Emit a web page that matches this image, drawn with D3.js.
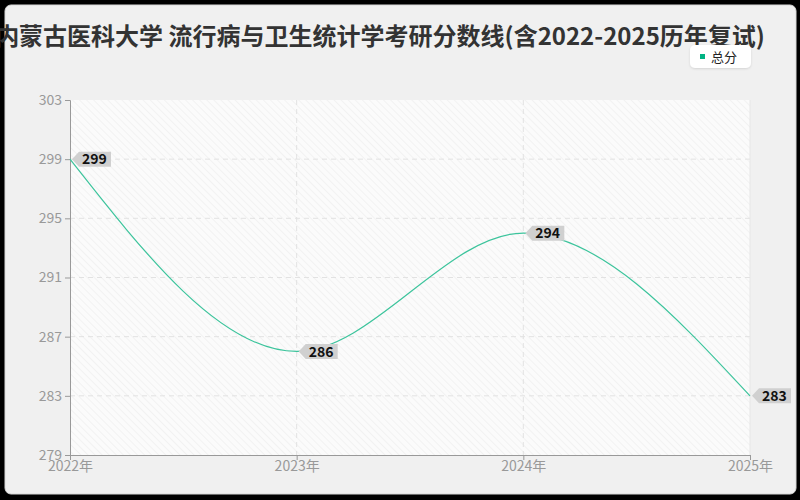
<!DOCTYPE html>
<html>
<head>
<meta charset="utf-8">
<script src="https://cdn.jsdelivr.net/npm/d3@7"></script>
<style>
  html, body { margin: 0; padding: 0; background: #000; }
  svg { display: block; }
</style>
</head>
<body>
<div id="chart"></div>
<script>
// chart data
const years = ['2022年', '2023年', '2024年', '2025年'];
const scores = [299, 286, 294, 283];
const yTicks = [279, 283, 287, 291, 295, 299, 303];
const seriesName = '总分';
const title = '内蒙古医科大学 流行病与卫生统计学考研分数线(含2022-2025历年复试)';

const W = 800, H = 500;
const M = { t: 100, r: 50, b: 45, l: 70 };
const FONT = '"Noto Sans CJK SC", "Noto Sans", sans-serif';
const LINE = '#3cc49c';

const svg = d3.select('#chart').append('svg')
  .attr('width', W)
  .attr('height', H)
  .style('font-family', FONT);

const defs = svg.append('defs');
const pat = defs.append('pattern')
  .attr('id', 'hatch')
  .attr('patternUnits', 'userSpaceOnUse')
  .attr('width', 5).attr('height', 5)
  .attr('patternTransform', 'rotate(-45)');
pat.append('rect').attr('width', 5).attr('height', 5).attr('fill', '#fbfbfb');
pat.append('line').attr('x1', 0).attr('y1', 0).attr('x2', 0).attr('y2', 5)
  .attr('stroke', '#f0f0f0').attr('stroke-width', 1.5);

const sh = defs.append('filter').attr('id', 'shadow')
  .attr('x', '-20%').attr('y', '-20%').attr('width', '140%').attr('height', '160%');
sh.append('feDropShadow').attr('dx', 0).attr('dy', 1).attr('stdDeviation', 1.2)
  .attr('flood-color', '#000').attr('flood-opacity', 0.12);

// card
svg.append('rect')
  .attr('x', 5).attr('y', 5).attr('width', W - 9).attr('height', H - 11)
  .attr('rx', 6)
  .attr('fill', '#f0f0f0')
  .attr('stroke', '#d8d8d8');

const x = d3.scalePoint()
  .domain(years)
  .range([M.l, W - M.r]);

const y = d3.scaleLinear()
  .domain([279, 303])
  .range([H - M.b, M.t]);

// plot background
svg.append('rect')
  .attr('x', M.l).attr('y', M.t)
  .attr('width', W - M.l - M.r).attr('height', H - M.t - M.b)
  .attr('fill', 'url(#hatch)');

// grid
svg.append('g')
  .selectAll('line')
  .data(yTicks.slice(1, -1))
  .enter().append('line')
  .attr('x1', M.l).attr('x2', W - M.r)
  .attr('y1', d => y(d)).attr('y2', d => y(d))
  .attr('stroke', '#e2e2e2').attr('stroke-dasharray', '5 4');

svg.append('g')
  .selectAll('line')
  .data(years.slice(1))
  .enter().append('line')
  .attr('x1', d => x(d)).attr('x2', d => x(d))
  .attr('y1', M.t).attr('y2', H - M.b)
  .attr('stroke', d => d === years[years.length - 1] ? '#e6e6e6' : '#e2e2e2')
  .attr('stroke-dasharray', d => d === years[years.length - 1] ? null : '5 4');

// axes
const yAxis = svg.append('g')
  .attr('transform', `translate(${M.l},0)`)
  .call(d3.axisLeft(y).tickValues(yTicks).tickSize(5).tickPadding(3));
const xAxis = svg.append('g')
  .attr('transform', `translate(0,${H - M.b})`)
  .call(d3.axisBottom(x).tickSize(5).tickPadding(1));

[yAxis, xAxis].forEach(g => {
  g.select('.domain').attr('stroke', '#999');
  g.selectAll('.tick line').attr('stroke', '#999');
  g.selectAll('.tick text')
    .attr('fill', '#999')
    .style('font-size', '14px')
    .style('font-family', FONT);
});

// line
const line = d3.line()
  .x((d, i) => x(years[i]))
  .y(d => y(d))
  .curve(d3.curveMonotoneX);

svg.append('path')
  .datum(scores)
  .attr('fill', 'none')
  .attr('stroke', LINE)
  .attr('stroke-width', 1.2)
  .attr('d', line);

// value tags
const tags = svg.append('g')
  .selectAll('g')
  .data(scores)
  .enter().append('g')
  .attr('transform', (d, i) => `translate(${x(years[i])},${y(d)})`);

tags.append('path')
  .attr('d', 'M2,0 L9,-7.5 L41,-7.5 L41,7.5 L9,7.5 Z')
  .attr('fill', '#d0d0d0');

tags.append('text')
  .attr('x', 12)
  .attr('y', 0)
  .attr('dy', '0.36em')
  .attr('fill', '#111')
  .style('font-size', '14px')
  .style('font-weight', 'bold')
  .text(d => d);

// title
svg.append('text')
  .attr('x', 380)
  .attr('y', 45)
  .attr('text-anchor', 'middle')
  .attr('fill', '#333')
  .style('font-size', '24px')
  .style('font-weight', 'bold')
  .text(title);

// legend
const lg = svg.append('g').attr('transform', 'translate(690,45)');
lg.append('rect')
  .attr('width', 61).attr('height', 23).attr('rx', 5)
  .attr('fill', '#fff')
  .attr('filter', 'url(#shadow)');
lg.append('rect')
  .attr('x', 10).attr('y', 9).attr('width', 5).attr('height', 5)
  .attr('fill', '#00b383');
lg.append('text')
  .attr('x', 21).attr('y', 12)
  .attr('dy', '0.35em')
  .attr('fill', '#222')
  .style('font-size', '13px')
  .text(seriesName);
</script>
</body>
</html>
